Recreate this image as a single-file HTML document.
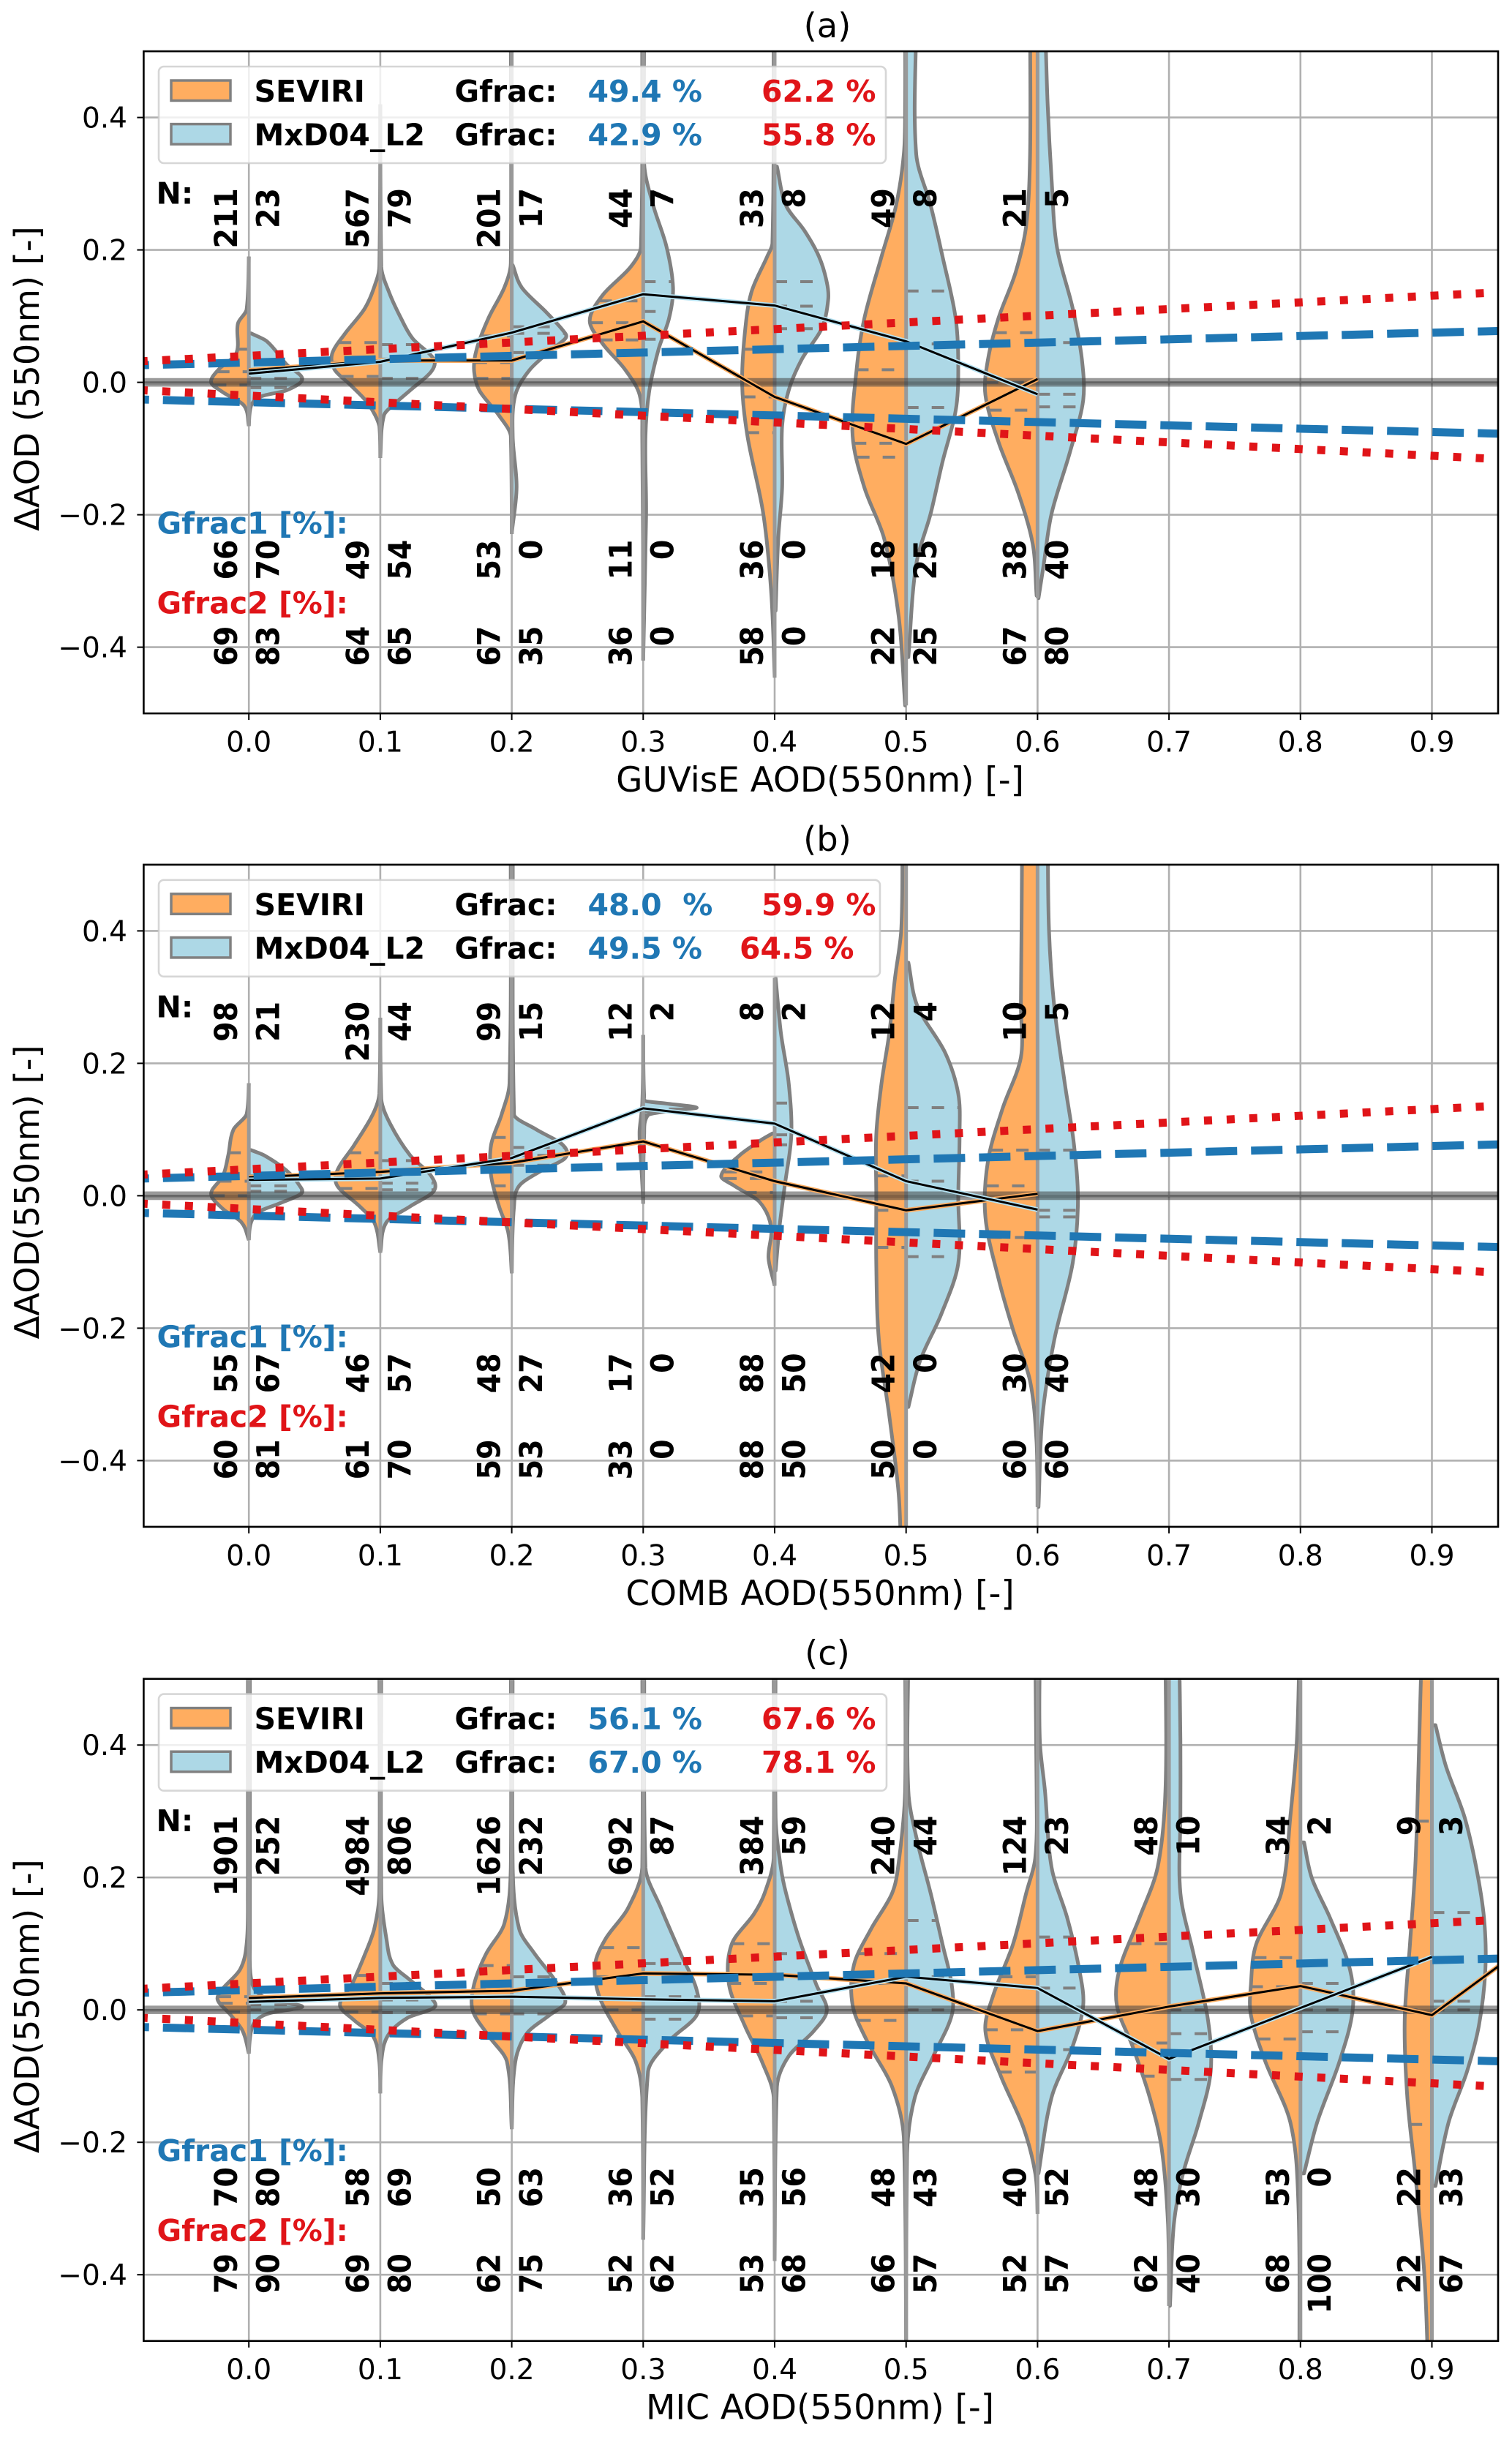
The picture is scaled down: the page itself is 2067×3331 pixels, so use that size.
<!DOCTYPE html>
<html lang="en">
<head>
<meta charset="utf-8">
<title>AOD difference violin plots</title>
<style>
html,body{margin:0;padding:0;background:#fff;}
svg{display:block;}
text{font-family:"DejaVu Sans","Liberation Sans",sans-serif;white-space:pre;}
</style>
</head>
<body>
<svg id="figure" xmlns="http://www.w3.org/2000/svg" width="2067" height="3331" viewBox="0 0 2067 3331"></svg>
<script>
// ---------- shared axis data ----------
const xTickValues = [0,0.1,0.2,0.3,0.4,0.5,0.6,0.7,0.8,0.9];
const xTickLabels = ["0.0","0.1","0.2","0.3","0.4","0.5","0.6","0.7","0.8","0.9"];
const yTickValues = [0.4,0.2,0,-0.2,-0.4];
const yTickLabels = ["0.4","0.2","0.0","\u22120.2","\u22120.4"];
const guideX = [-0.08,0.95];
const blueUpper = [0.026,0.0775];
const blueLower = [-0.026,-0.0775];
const redUpper = [0.032,0.135];
const redLower = [-0.012,-0.115];

// ---------- panel (a) ----------
const aBins = [0,0.1,0.2,0.3,0.4,0.5,0.6];
const aNSeviri = [211,567,201,44,33,49,21];
const aNMxd = [23,79,17,7,8,8,5];
const aG1Seviri = [66,49,53,11,36,18,38];
const aG1Mxd = [70,54,0,0,0,25,40];
const aG2Seviri = [69,64,67,36,58,22,67];
const aG2Mxd = [83,65,35,0,0,25,80];
const aMeanSeviri = [0.018,0.033,0.033,0.092,-0.022,-0.093,0.005];
const aMeanMxd = [0.013,0.031,0.075,0.133,0.116,0.062,-0.018];
const aViolinSeviri = [
 [[.19,0],[.11,.002],[.089,.0086],[.043,.01],[.02,.023],[0,.029],[-.015,.02],[-.035,.004],[-.066,0]],
 [[.42,0],[.175,.001],[.155,.003],[.112,.012],[.074,.027],[.043,.037],[.019,.035],[-.004,.023],[-.031,.01],[-.066,.001],[-.114,0]],
 [[.55,.001],[.18,.001],[.143,.006],[.097,.018],[.05,.027],[.019,.029],[-.012,.025],[-.05,.01],[-.081,.001],[-.229,0]],
 [[.55,.001],[.205,.002],[.174,.01],[.132,.031],[.093,.041],[.058,.031],[.019,.014],[-.019,.003],[-.081,.001],[-.42,0]],
 [[.55,.001],[.21,.002],[.19,.006],[.136,.018],[.074,.023],[-.004,.025],[-.081,.021],[-.198,.009],[-.314,.003],[-.446,0]],
 [[.55,.001],[.42,.001],[.345,.002],[.267,.008],[.19,.019],[.097,.032],[.019,.038],[-.081,.041],[-.159,.032],[-.236,.017],[-.353,.006],[-.488,.001]],
 [[.55,.006],[.345,.006],[.236,.009],[.166,.017],[.097,.03],[.035,.038],[-.019,.04],[-.09,.03],[-.167,.015],[-.244,.004],[-.322,.001]]
];
const aViolinMxd = [
 [[.074,.002],[.062,.014],[.027,.029],[.005,.041],[-.012,.029],[-.021,.01],[-.035,.002],[-.066,0]],
 [[.42,0],[.175,.001],[.136,.007],[.097,.016],[.066,.025],[.035,.041],[.016,.039],[-.012,.023],[-.031,.012],[-.05,.003],[-.114,0]],
 [[.177,.001],[.143,.008],[.105,.027],[.074,.041],[.066,.041],[.05,.031],[.019,.014],[-.019,.003],[-.081,.001],[-.159,.004],[-.229,0]],
 [[.55,.001],[.33,.001],[.267,.008],[.205,.018],[.143,.023],[.097,.02],[.05,.012],[-.012,.005],[-.081,.002],[-.2,.0025],[-.42,0]],
 [[.326,.002],[.267,.009],[.229,.023],[.19,.034],[.151,.04],[.124,.041],[.081,.036],[.035,.021],[-.012,.011],[-.066,.006],[-.159,.006],[-.236,.003],[-.345,.001]],
 [[.55,.008],[.345,.008],[.267,.019],[.19,.028],[.097,.038],[.019,.04],[-.043,.038],[-.12,.028],[-.198,.019],[-.275,.008],[-.415,.002]],
 [[.55,.006],[.42,.008],[.306,.011],[.205,.015],[.112,.027],[.035,.034],[-.027,.035],[-.105,.025],[-.198,.011],[-.275,.005],[-.326,.001]]
];
const aQuartSeviri = [[.05,.016,-.004],[.06,.03,.009],[.07,.03,.006],[.123,.09,.064],[.05,-.022,-.076],[.019,-.092,-.113],[.075,.0,-.042]];
const aQuartMxd = [[.018,.006,-.008],[.057,.035,.006],[.084,.074,.045],[.152,.107,.065],[.152,.115,.081],[.138,.058,-.038],[.06,-.018,-.037]];

// ---------- panel (b) ----------
const bBins = [0,0.1,0.2,0.3,0.4,0.5,0.6];
const bNSeviri = [98,230,99,12,8,12,10];
const bNMxd = [21,44,15,2,2,4,5];
const bG1Seviri = [55,46,48,17,88,42,30];
const bG1Mxd = [67,57,27,0,50,0,40];
const bG2Seviri = [60,61,59,33,88,50,60];
const bG2Mxd = [81,70,53,0,50,0,60];
const bMeanSeviri = [0.028,0.036,0.05,0.082,0.022,-0.022,0.003];
const bMeanMxd = [0.024,0.026,0.057,0.132,0.109,0.022,-0.021];
const bViolinSeviri = [
 [[.17,0],[.123,.002],[.1,.012],[.061,.016],[.03,.02],[.003,.029],[-.02,.02],[-.04,.006],[-.067,0]],
 [[.269,0],[.154,.001],[.123,.006],[.077,.02],[.038,.033],[.015,.033],[-.016,.016],[-.04,.005],[-.086,0]],
 [[.55,.001],[.17,.002],[.123,.008],[.077,.016],[.03,.016],[-.016,.01],[-.055,.003],[-.117,0]],
 [[.243,0],[.139,.001],[.1,.003],[.085,.003],[.053,.002],[-.012,0]],
 [[.094,.002],[.085,.01],[.061,.027],[.03,.041],[.015,.031],[-.009,.012],[-.047,.003],[-.094,.005],[-.136,0]],
 [[.55,.003],[.402,.004],[.325,.009],[.247,.013],[.17,.019],[.092,.023],[-.001,.023],[-.102,.023],[-.218,.021],[-.334,.013],[-.45,.006],[-.55,.004]],
 [[.55,.012],[.402,.0125],[.286,.013],[.209,.013],[.131,.027],[.053,.038],[-.032,.04],[-.125,.03],[-.202,.019],[-.28,.006],[-.373,.001],[-.47,0]]
];
const bViolinMxd = [
 [[.069,.002],[.061,.012],[.038,.029],[.015,.039],[.003,.04],[-.012,.023],[-.024,.008],[-.04,.002],[-.067,0]],
 [[.269,0],[.146,.001],[.108,.008],[.061,.023],[.03,.039],[.007,.041],[-.016,.023],[-.04,.005],[-.086,0]],
 [[.55,.001],[.123,.002],[.1,.019],[.077,.039],[.057,.041],[.038,.023],[.015,.006],[-.016,.002],[-.117,0]],
 [[.243,0],[.15,.001],[.143,.002],[.139,.019],[.133,.041],[.129,.023],[.122,.004],[.092,.001],[-.012,0]],
 [[.329,.001],[.247,.005],[.17,.011],[.092,.013],[.015,.008],[-.047,.004],[-.113,.001]],
 [[.352,.002],[.286,.009],[.216,.03],[.154,.04],[.092,.041],[-.001,.04],[-.102,.04],[-.179,.027],[-.249,.011],[-.319,.002]],
 [[.55,.008],[.402,.009],[.286,.013],[.17,.021],[.077,.028],[-.009,.031],[-.102,.027],[-.218,.013],[-.334,.004],[-.47,.001]]
];
const bQuartSeviri = [[.065,.022,0],[.065,.03,.011],[.088,.046,.015],[.112,.084,.053],[.036,.026,.005],[.03,-.022,-.078],[.069,.015,-.063]];
const bQuartMxd = [[.03,.015,.007],[.053,.019,.009],[.073,.061,.046],[.131,.127,.122],[.14,.092,.077],[.133,.022,-.092],[.069,-.022,-.032]];

// ---------- panel (c) ----------
const cBins = [0,0.1,0.2,0.3,0.4,0.5,0.6,0.7,0.8,0.9];
const cNSeviri = [1901,4984,1626,692,384,240,124,48,34,9];
const cNMxd = [252,806,232,87,59,44,23,10,2,3];
const cG1Seviri = [70,58,50,36,35,48,40,48,53,22];
const cG1Mxd = [80,69,63,52,56,43,52,30,0,33];
const cG2Seviri = [79,69,62,52,53,66,52,62,68,22];
const cG2Mxd = [90,80,75,62,68,57,57,40,100,67];
const cMeanSeviri = [0.018,0.025,0.029,0.055,0.053,0.04,-0.032,0.005,0.036,-0.008,0.138];
const cMeanSeviriX = [0,0.1,0.2,0.3,0.4,0.5,0.6,0.7,0.8,0.9,1.0];
const cMeanMxd = [0.012,0.018,0.02,0.016,0.013,0.05,0.033,-0.074,0.003,0.08];
const cViolinSeviri = [
 [[.55,.001],[.176,.001],[.099,.002],[.061,.007],[.03,.021],[.015,.024],[-.008,.014],[-.032,.005],[-.066,0]],
 [[.55,.001],[.176,.001],[.122,.005],[.084,.012],[.038,.022],[.007,.031],[-.016,.02],[-.039,.006],[-.078,.001],[-.126,0]],
 [[.55,.001],[.215,.001],[.13,.006],[.084,.02],[.038,.029],[-.001,.03],[-.039,.018],[-.078,.004],[-.18,0]],
 [[.55,.001],[.215,.001],[.153,.012],[.107,.029],[.068,.037],[.022,.034],[-.032,.02],[-.078,.006],[-.132,.001],[-.347,0]],
 [[.55,.001],[.23,.001],[.176,.008],[.145,.016],[.099,.033],[.038,.035],[-.024,.023],[-.078,.01],[-.132,.001],[-.379,0]],
 [[.55,.001],[.33,.001],[.222,.006],[.176,.011],[.122,.027],[.068,.04],[.007,.041],[-.047,.03],[-.116,.011],[-.193,.002],[-.5,0]],
 [[.55,.002],[.33,.001],[.23,.002],[.176,.009],[.099,.019],[.022,.034],[-.032,.04],[-.101,.028],[-.178,.011],[-.247,.002],[-.308,0]],
 [[.55,.003],[.33,.003],[.215,.009],[.138,.023],[.061,.038],[.007,.04],[-.055,.028],[-.132,.015],[-.208,.006],[-.324,.001],[-.447,0]],
 [[.55,.001],[.407,.003],[.292,.008],[.176,.015],[.099,.034],[.038,.038],[-.008,.038],[-.078,.027],[-.17,.008],[-.285,.002],[-.55,.001]],
 [[.55,.008],[.33,.011],[.215,.013],[.099,.017],[-.016,.021],[-.132,.019],[-.247,.013],[-.401,.006],[-.55,.003]]
];
const cViolinMxd = [
 [[.55,.001],[.099,.001],[.038,.003],[.015,.016],[.005,.041],[-.005,.016],[-.016,.006],[-.032,.002],[-.066,0]],
 [[.55,.001],[.176,.001],[.107,.005],[.068,.01],[.045,.023],[.018,.039],[.003,.041],[-.012,.021],[-.039,.006],[-.078,.001],[-.126,0]],
 [[.55,.001],[.215,.001],[.122,.006],[.084,.018],[.045,.033],[.011,.041],[-.008,.029],[-.035,.012],[-.078,.003],[-.18,0]],
 [[.55,.001],[.215,.002],[.153,.014],[.084,.029],[.03,.041],[-.008,.041],[-.047,.02],[-.093,.004],[-.347,0]],
 [[.55,.001],[.29,.001],[.215,.005],[.176,.009],[.107,.019],[.038,.032],[-.001,.04],[-.032,.03],[-.07,.011],[-.116,.002],[-.379,0]],
 [[.55,.002],[.33,.002],[.253,.009],[.176,.019],[.099,.028],[.038,.035],[-.008,.035],[-.07,.021],[-.132,.007],[-.216,.001],[-.5,0]],
 [[.55,.002],[.407,.002],[.33,.006],[.215,.011],[.138,.023],[.061,.032],[.007,.035],[-.055,.027],[-.132,.011],[-.247,.001]],
 [[.55,.008],[.407,.009],[.292,.009],[.176,.009],[.084,.019],[-.016,.03],[-.093,.032],[-.17,.023],[-.247,.011],[-.324,.004],[-.447,.001]],
 [[.253,.003],[.199,.009],[.138,.023],[.061,.038],[-.001,.04],[-.078,.03],[-.17,.013],[-.247,.003]],
 [[.43,.003],[.368,.011],[.292,.025],[.215,.034],[.138,.04],[.061,.041],[-.024,.036],[-.093,.027],[-.17,.013],[-.266,.003]]
];
const cQuartSeviri = [[.02,.01,-.003],[.052,.02,-.003],[.067,.03,-.006],[.094,.05,0],[.1,.04,-.009],[.085,.04,-.016],[.05,-.03,-.094],[.1,-.05,-.1],[.079,.035,-.044],[.285,0,-.173]];
const cQuartMxd = [[.02,.008,0],[.04,.015,-.004],[.05,.02,-.006],[.07,.02,-.014],[.085,.013,-.012],[.135,.05,0],[.11,.033,-.06],[0,-.036,-.105],[.04,0,-.033],[.147,.013,0]];

// ---------- legend text ----------
const seriesNames = ["SEVIRI","MxD04_L2"];
const aLegendG1 = ["49.4 %","42.9 %"];
const aLegendG2 = ["62.2 %","55.8 %"];
const bLegendG1 = ["48.0  %","49.5 %"];
const bLegendG2 = ["59.9 %","64.5 %"];
const cLegendG1 = ["56.1 %","67.0 %"];
const cLegendG2 = ["67.6 %","78.1 %"];

// ---------- drawing ----------
const SVGNS = "http://www.w3.org/2000/svg";
const svg = document.getElementById("figure");
const X0 = 340.2, XS = 1797, YS = 905, AL = 196.4, AR = 2048;
const GRAY = "#808080", ORANGE = "#ffad60", LBLUE = "#add8e6", TBLUE = "#1f77b4", RED = "#e01418";

function xPx(v){ return X0 + XS*v; }

function make(parent, tag, attrs, txt){
  const el = document.createElementNS(SVGNS, tag);
  for(const k in attrs){ el.setAttribute(k, attrs[k]); }
  if(txt !== undefined){ el.textContent = txt; }
  parent.appendChild(el);
  return el;
}

function widthAt(profile, y){
  for(let i=0;i<profile.length-1;i++){
    const a=profile[i], b=profile[i+1];
    if(y<=a[0] && y>=b[0]){
      const t=(a[0]-y)/(a[0]-b[0]);
      return a[1]+(b[1]-a[1])*t;
    }
  }
  return 0;
}

function violinPath(profile, xc, side, yPx){
  const n=profile.length;
  const m=[];
  for(let i=0;i<n;i++){
    const p=profile[Math.max(0,i-1)], q=profile[Math.min(n-1,i+1)];
    m.push((q[1]-p[1])/(q[0]-p[0]));
  }
  const px=w=>xPx(xc)+side*XS*Math.max(0,w-0.0003);
  let d="M"+xPx(xc).toFixed(1)+" "+yPx(profile[0][0]).toFixed(1)+"L"+px(profile[0][1]).toFixed(1)+" "+yPx(profile[0][0]).toFixed(1);
  for(let i=0;i<n-1;i++){
    const a=profile[i], b=profile[i+1], dy=b[0]-a[0];
    const c1w=a[1]+m[i]*dy/3, c2w=b[1]-m[i+1]*dy/3;
    d+="C"+px(c1w).toFixed(1)+" "+yPx(a[0]+dy/3).toFixed(1)+" "+px(c2w).toFixed(1)+" "+yPx(b[0]-dy/3).toFixed(1)+" "+px(b[1]).toFixed(1)+" "+yPx(b[0]).toFixed(1);
  }
  d+="L"+xPx(xc).toFixed(1)+" "+yPx(profile[n-1][0]).toFixed(1);
  return d;
}

function drawPanel(p){
  const y0=p.y0;
  const yPx=v=>y0-YS*v;
  const top=yPx(0.5), bottom=yPx(-0.5);
  const g=make(svg,"g",{});
  
  

  const cp=make(g,"clipPath",{id:"clip-"+p.id});
  make(cp,"rect",{x:AL,y:top,width:AR-AL,height:bottom-top});

  // grid
  const grid=make(g,"g",{stroke:"#b0b0b0","stroke-width":2.6,fill:"none"});
  
  
  xTickValues.forEach(v=>{
    const l=make(grid,"line",{x1:xPx(v),x2:xPx(v),y1:top,y2:bottom});
    
    
  });
  yTickValues.forEach(v=>{
    const l=make(grid,"line",{x1:AL,x2:AR,y1:yPx(v),y2:yPx(v)});
    
    
  });

  const plot=make(g,"g",{"clip-path":"url(#clip-"+p.id+")"});
  
  

  // violins
  p.bins.forEach((xc,i)=>{
    [[p.violinS,p.quartS,-1,ORANGE,"seviri"],[p.violinM,p.quartM,1,LBLUE,"mxd04"]].forEach(s=>{
      const prof=s[0][i];
      const v=make(plot,"path",{d:violinPath(prof,xc,s[2],yPx),fill:s[3],stroke:GRAY,"stroke-width":5,"stroke-linejoin":"round"});
      
      
      s[1][i].forEach(q=>{
        const w=widthAt(prof,q);
        const edge=xPx(xc)+s[2]*XS*w;
        const start=s[2]<0?edge:xPx(xc);
        const stop=s[2]<0?xPx(xc):edge;
        const l=make(plot,"line",{x1:start,x2:stop,y1:yPx(q),y2:yPx(q),stroke:GRAY,"stroke-width":4,"stroke-dasharray":"17 18"});
        
        
      });
    });
    const prS=p.violinS[i], prM=p.violinM[i];
    const c=make(plot,"line",{x1:xPx(xc),x2:xPx(xc),y1:yPx(Math.max(prS[0][0],prM[0][0])),y2:yPx(Math.min(prS[prS.length-1][0],prM[prM.length-1][0])),stroke:"#999999","stroke-width":5});
    
    
  });

  // zero line
  const zero=make(plot,"line",{x1:AL,x2:AR,y1:yPx(0),y2:yPx(0),stroke:"#404040","stroke-width":11.7,"stroke-opacity":0.53});
  
  
  const zeroCore=make(plot,"line",{x1:AL,x2:AR,y1:yPx(0)+1,y2:yPx(0)+1,stroke:"#000","stroke-width":4.5,"stroke-opacity":0.15});
  
  

  // mean lines
  [[p.meanXS,p.meanS,ORANGE,"seviri"],[p.bins,p.meanM,"#b5e2f2","mxd04"]].forEach(s=>{
    const pts=s[0].map((x,i)=>xPx(x).toFixed(1)+","+yPx(s[1][i]).toFixed(1)).join(" ");
    const halo=make(plot,"polyline",{points:pts,fill:"none",stroke:s[2],"stroke-width":6.5});
    
    
    const core=make(plot,"polyline",{points:pts,fill:"none",stroke:"#000","stroke-width":3});
    
    
  });

  // guides
  [blueUpper,blueLower].forEach(vals=>{
    const l=make(plot,"line",{x1:xPx(guideX[0]),y1:yPx(vals[0]),x2:xPx(guideX[1]),y2:yPx(vals[1]),stroke:TBLUE,"stroke-width":11,"stroke-dasharray":"43 19","stroke-dashoffset":35.7});
    
    
  });
  [redUpper,redLower].forEach(vals=>{
    const l=make(plot,"line",{x1:xPx(guideX[0]),y1:yPx(vals[0]),x2:xPx(guideX[1])-16,y2:yPx(vals[1]),stroke:RED,"stroke-width":11,"stroke-dasharray":"11 20","stroke-dashoffset":5.6});
    
    
  });

  // rotated numbers
  const rows=[[p.nS,p.nM,-265.5],[p.g1S,p.g1M,215],[p.g2S,p.g2M,333]];
  rows.forEach((r,ri)=>{
    p.bins.forEach((xc,i)=>{
      [[r[0][i],-16],[r[1][i],41.4]].forEach(c=>{
        const bx=xPx(xc)+c[1], by=y0+r[2];
        const t=make(g,"text",{x:0,y:0,transform:"translate("+bx+" "+by+") rotate(-90) scale(1 1.09)","text-anchor":"end","font-size":39.5,"font-weight":"bold",fill:"#000"},String(c[0]));
        
        
      });
    });
  });

  const nLab=make(g,"text",{x:213.5,y:y0-244,"font-size":41,"font-weight":"bold",fill:"#000"},"N:");
  
  
  const g1Lab=make(g,"text",{x:214.5,y:y0+207,"font-size":41,"font-weight":"bold",fill:TBLUE},"Gfrac1 [%]:");
  
  
  const g2Lab=make(g,"text",{x:214.5,y:y0+316,"font-size":41,"font-weight":"bold",fill:RED},"Gfrac2 [%]:");
  
  

  // legend
  const lg=make(g,"g",{});
  
  
  const frame=make(lg,"rect",{x:217,y:y0-431.6,width:p.legendRight-217,height:132,rx:7,ry:7,fill:"#fff","fill-opacity":0.8,stroke:"#cccccc","stroke-opacity":0.8,"stroke-width":2.6});
  
  
  [0,1].forEach(i=>{
    const base=y0-383.6+i*59.6;
    const sw=make(lg,"rect",{x:234,y:base-29,width:81,height:27.5,fill:i?LBLUE:ORANGE,stroke:GRAY,"stroke-width":3.5});
    
    
    const n=make(lg,"text",{x:347.5,y:base,"font-size":41,"font-weight":"bold",fill:"#000"},seriesNames[i]);
    
    
    const gf=make(lg,"text",{x:621.5,y:base,"font-size":41,"font-weight":"bold",fill:"#000"},"Gfrac:");
    
    
    const b=make(lg,"text",{x:803.5,y:base,"font-size":41,"font-weight":"bold",fill:TBLUE},p.legendG1[i]);
    
    
    const r=make(lg,"text",{x:p.legendRedX[i]-1,y:base,"font-size":41,"font-weight":"bold",fill:RED},p.legendG2[i]);
    
    
  });

  // frame + ticks
  const box=make(g,"rect",{x:AL,y:top,width:AR-AL,height:bottom-top,fill:"none",stroke:"#000","stroke-width":2.6});
  
  
  xTickValues.forEach((v,i)=>{
    const tk=make(g,"line",{x1:xPx(v),x2:xPx(v),y1:bottom,y2:bottom+9,stroke:"#000","stroke-width":2});
    
    
    const tl=make(g,"text",{x:xPx(v),y:y0+505,"text-anchor":"middle","font-size":39,fill:"#000"},xTickLabels[i]);
    
    
  });
  yTickValues.forEach((v,i)=>{
    const tk=make(g,"line",{x1:AL-9,x2:AL,y1:yPx(v),y2:yPx(v),stroke:"#000","stroke-width":2});
    
    
    const tl=make(g,"text",{x:174,y:yPx(v)+14,"text-anchor":"end","font-size":39,fill:"#000"},yTickLabels[i]);
    
    
  });

  const title=make(g,"text",{x:1131,y:y0-471.6,"text-anchor":"middle","font-size":46.4,fill:"#000"},p.title);
  
  
  const xl=make(g,"text",{x:1121,y:y0+559.5,"text-anchor":"middle","font-size":46.9,fill:"#000"},p.xLabel);
  
  
  const yl=make(g,"text",{x:0,y:0,transform:"translate(53 "+(y0+p.yLabelDy)+") rotate(-90)","text-anchor":"middle","font-size":46.4,fill:"#000"},p.yLabel);
  
  
}

drawPanel({id:"a",y0:522.6,title:"(a)",xLabel:"GUVisE AOD(550nm) [-]",yLabel:"\u0394AOD (550nm) [-]",yLabelDy:-5,
  bins:aBins,meanXS:aBins,meanS:aMeanSeviri,meanM:aMeanMxd,violinS:aViolinSeviri,violinM:aViolinMxd,quartS:aQuartSeviri,quartM:aQuartMxd,
  nS:aNSeviri,nM:aNMxd,g1S:aG1Seviri,g1M:aG1Mxd,g2S:aG2Seviri,g2M:aG2Mxd,legendG1:aLegendG1,legendG2:aLegendG2,legendRedX:[1042,1042],legendRight:1211});
drawPanel({id:"b",y0:1634.4,title:"(b)",xLabel:"COMB AOD(550nm) [-]",yLabel:"\u0394AOD(550nm) [-]",yLabelDy:-5,
  bins:bBins,meanXS:bBins,meanS:bMeanSeviri,meanM:bMeanMxd,violinS:bViolinSeviri,violinM:bViolinMxd,quartS:bQuartSeviri,quartM:bQuartMxd,
  nS:bNSeviri,nM:bNMxd,g1S:bG1Seviri,g1M:bG1Mxd,g2S:bG2Seviri,g2M:bG2Mxd,legendG1:bLegendG1,legendG2:bLegendG2,legendRedX:[1042,1012],legendRight:1203});
drawPanel({id:"c",y0:2747.2,title:"(c)",xLabel:"MIC AOD(550nm) [-]",yLabel:"\u0394AOD(550nm) [-]",yLabelDy:-5,
  bins:cBins,meanXS:cMeanSeviriX,meanS:cMeanSeviri,meanM:cMeanMxd,violinS:cViolinSeviri,violinM:cViolinMxd,quartS:cQuartSeviri,quartM:cQuartMxd,
  nS:cNSeviri,nM:cNMxd,g1S:cG1Seviri,g1M:cG1Mxd,g2S:cG2Seviri,g2M:cG2Mxd,legendG1:cLegendG1,legendG2:cLegendG2,legendRedX:[1042,1042],legendRight:1212});
</script>
</body>
</html>
